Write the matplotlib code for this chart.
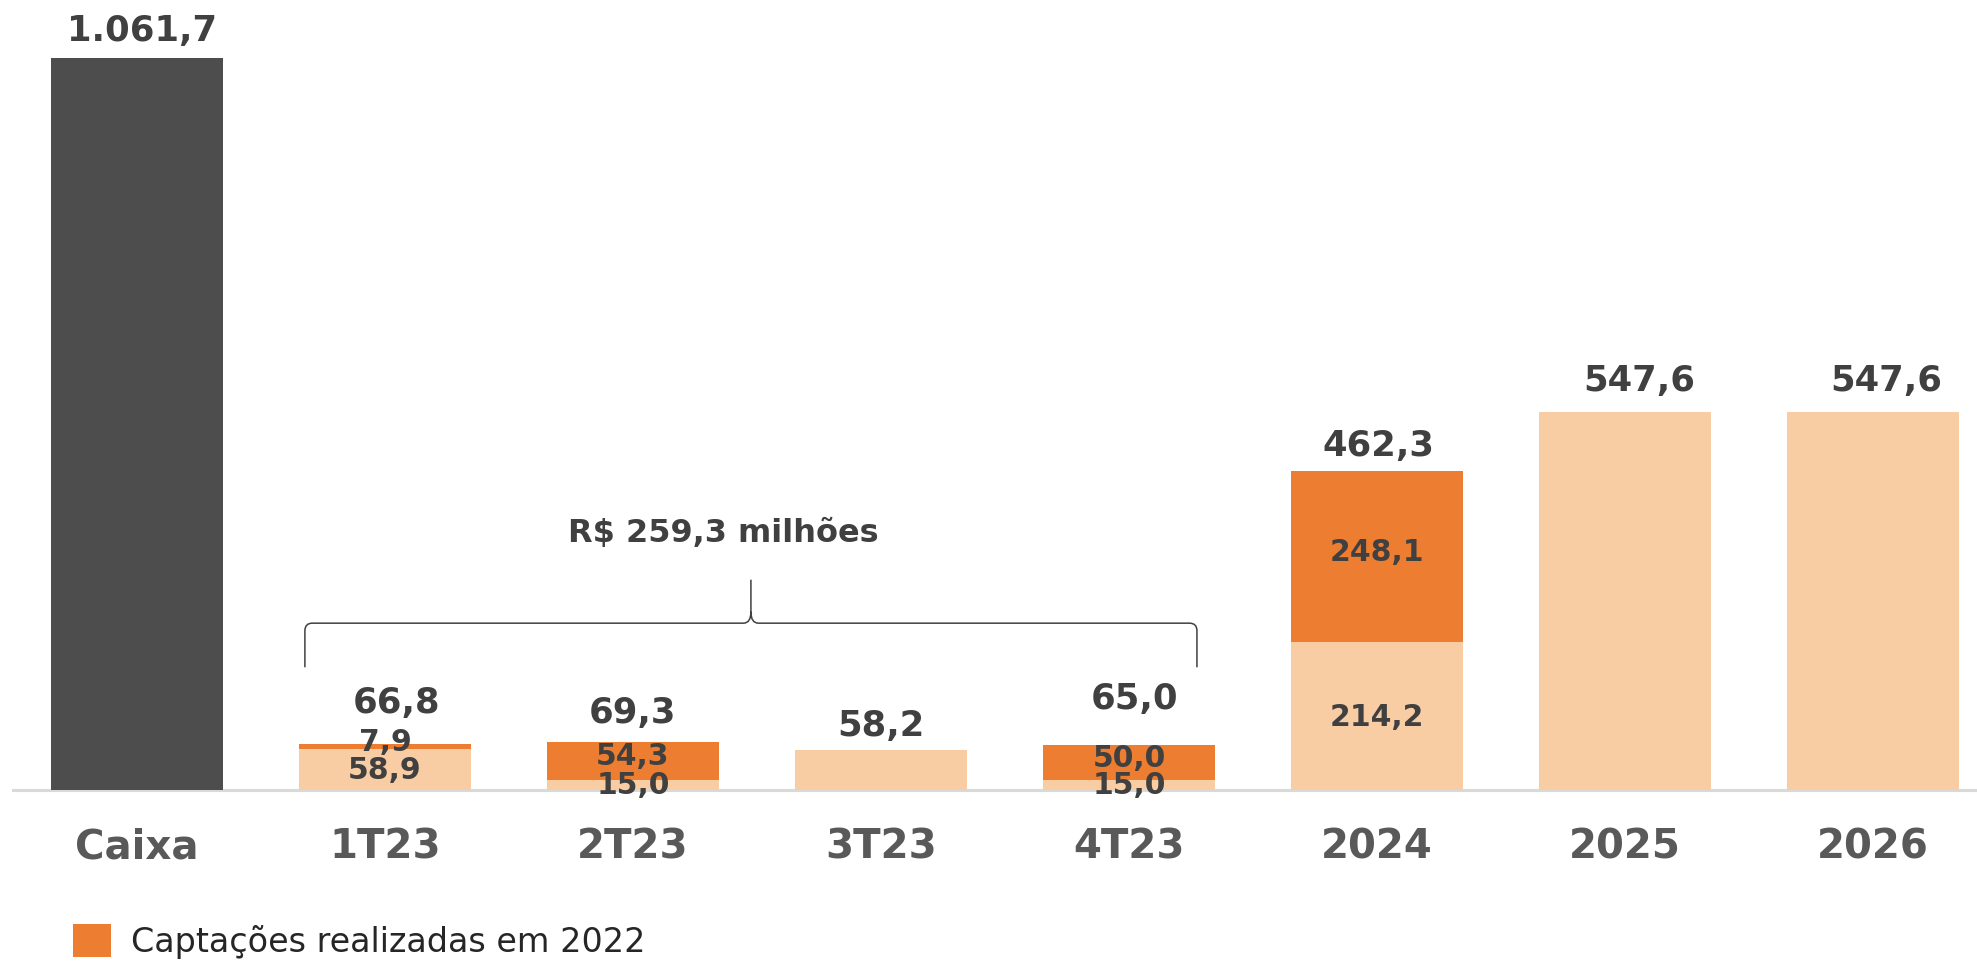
import numpy as np
import matplotlib
matplotlib.use("Agg")
import matplotlib.pyplot as plt
from matplotlib.path import Path
from matplotlib.patches import PathPatch

# data (R$ milhões)
categories = ['Caixa', '1T23', '2T23', '3T23', '4T23', '2024', '2025', '2026']
caixa      = 1061.7
base       = [0, 58.9, 15.0, 58.2, 15.0, 214.2, 547.6, 547.6]
captacoes  = [0, 7.9, 54.3, 0, 50.0, 248.1, 0, 0]
brace_text = 'R$ 259,3 milhões'
legend_lbl = 'Captações realizadas em 2022'

# label nudges in pixels (reference has hand-placed labels)
tot_dx = [5, 12, 0, 0, 6, 1, 14, 13]
tot_dy = [28, 42, 30, 25, 47, 26, 32, 32]

C_DARK   = '#4d4d4d'
C_LIGHT  = '#f8cda4'
C_ORANGE = '#ed7d31'
C_TEXT   = '#404040'
C_TICK   = '#595959'


def fmt(v):
    s = f"{v:,.1f}"
    return s.replace(',', 'X').replace('.', ',').replace('X', '.')


fig = plt.figure(figsize=(19.77, 9.62), dpi=100)
ax = fig.add_axes([0, 171 / 962, 1, 791 / 962])

x = np.arange(len(categories))
w = 0.694
base = np.array(base)
captacoes = np.array(captacoes)
totals = base + captacoes
totals[0] = caixa

ax.bar(x[:1], [caixa], width=w, color=C_DARK, zorder=3)
ax.bar(x[1:], base[1:], width=w, color=C_LIGHT, zorder=3)
bars_or = ax.bar(x[1:], captacoes[1:], bottom=base[1:], width=w, color=C_ORANGE,
                 zorder=3, label=legend_lbl)

ax.set_xlim(-137 / 248, (1977 - 137) / 248)
ax.set_ylim(0, 791 / 0.6894)

for s in ['top', 'left', 'right']:
    ax.spines[s].set_visible(False)
ax.spines['bottom'].set_color('#d9d9d9')
ax.spines['bottom'].set_linewidth(2.2)
ax.spines['bottom'].set_bounds(-0.5, 7.5)
ax.set_yticks([])
ax.set_xticks(x, categories)
ax.tick_params(axis='x', length=0, pad=26, labelsize=29, labelcolor=C_TICK)
for t in ax.get_xticklabels():
    t.set_fontweight('bold')

# totals
for i in range(len(categories)):
    ax.annotate(fmt(totals[i]), (x[i], totals[i]), xytext=(tot_dx[i], tot_dy[i]),
                textcoords='offset pixels', ha='center', va='center',
                fontsize=25.5, fontweight='bold', color=C_TEXT, zorder=5)

# segment labels where the bar is split
for i in range(1, len(categories)):
    if captacoes[i] > 0:
        ax.text(x[i], base[i] / 2, fmt(base[i]), ha='center', va='center',
                fontsize=21.5, fontweight='bold', color=C_TEXT, zorder=5)
        ax.annotate(fmt(captacoes[i]), (x[i], base[i] + captacoes[i] / 2),
                    xytext=(0, 5), textcoords='offset pixels', ha='center',
                    va='center', fontsize=21.5, fontweight='bold', color=C_TEXT, zorder=5)

# brace over 1T23..4T23
x0, x1 = 1 - 0.323, 4 + 0.274
xm = (x0 + x1) / 2
y_end, y_line, y_tip = 178, 242, 305
dx, dy = 0.03, 11
verts = [(x0, y_end), (x0, y_line - dy), (x0, y_line), (x0 + dx, y_line),
         (xm - dx, y_line), (xm, y_line), (xm, y_line + dy * 1.5), (xm, y_tip),
         (xm, y_line + dy * 1.5), (xm, y_line), (xm + dx, y_line),
         (x1 - dx, y_line), (x1, y_line), (x1, y_line - dy), (x1, y_end)]
codes = [Path.MOVETO, Path.LINETO, Path.CURVE3, Path.CURVE3,
         Path.LINETO, Path.CURVE3, Path.CURVE3, Path.LINETO,
         Path.MOVETO, Path.CURVE3, Path.CURVE3,
         Path.LINETO, Path.CURVE3, Path.CURVE3, Path.LINETO]
ax.add_patch(PathPatch(Path(verts, codes), fill=False, edgecolor=C_TEXT, lw=1.1, zorder=4))
ax.text(xm - 0.11, 374, brace_text, ha='center', va='center', fontsize=23,
        fontweight='bold', color=C_TEXT)

fig.legend(handles=[bars_or], labels=[legend_lbl], loc='center left',
           bbox_to_anchor=(73 / 1977, 20 / 962), frameon=False, fontsize=24,
           handlelength=1.14, handleheight=1.14, handletextpad=0.6,
           borderpad=0, borderaxespad=0, labelcolor='#262626')

fig.savefig('out.png', dpi=100)
